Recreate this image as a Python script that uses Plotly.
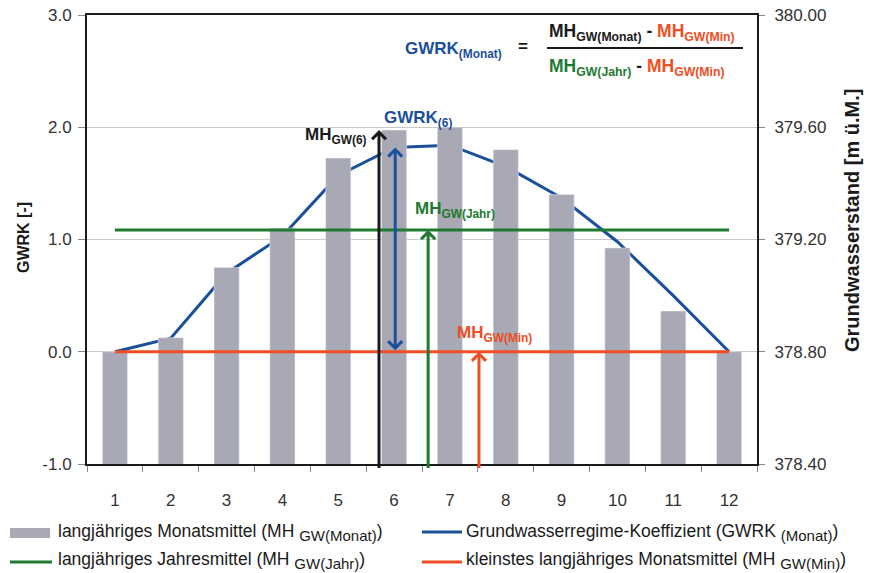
import plotly.graph_objects as go

# ---------------- data ----------------
months = ["1", "2", "3", "4", "5", "6", "7", "8", "9", "10", "11", "12"]
mh_monat = [378.80, 378.85, 379.10, 379.24, 379.49, 379.59, 379.60, 379.52, 379.36, 379.17, 378.945, 378.80]
gwrk = [0.00, 0.12, 0.70, 1.03, 1.57, 1.82, 1.84, 1.65, 1.37, 0.98, 0.50, 0.00]
mh_jahr = [379.234] * 12
mh_min = [378.80] * 12
left_ticks = [-1.0, 0.0, 1.0, 2.0, 3.0]
left_labels = ["-1.0", "0.0", "1.0", "2.0", "3.0"]
right_ticks = [378.40, 378.80, 379.20, 379.60, 380.00]
right_labels = ["378.40", "378.80", "379.20", "379.60", "380.00"]

# ---------------- styles ----------------
C_BAR = "#a9a9b5"
C_BLUE = "#1b4f9c"
C_GREEN = "#1d7a30"
C_RED = "#f04d24"
C_BLACK = "#1a1a1a"
C_TXT = "#333333"
FONT = "Arial, Liberation Sans, sans-serif"

W, H = 874, 573
L, R, T, B = 87, 117, 15, 109
PW, PH = W - L - R, H - T - B


def px(x):
    return (x - L) / PW


def py(y):
    return (H - B - y) / PH


fig = go.Figure()
fig.add_trace(go.Bar(x=months, y=mh_monat, yaxis="y2", marker_color=C_BAR,
                     width=0.45, showlegend=False))
fig.add_trace(go.Scatter(x=months, y=mh_jahr, yaxis="y2", mode="lines",
                         line=dict(color=C_GREEN, width=3), showlegend=False))
fig.add_trace(go.Scatter(x=months, y=mh_min, yaxis="y2", mode="lines",
                         line=dict(color=C_RED, width=3), showlegend=False))
fig.add_trace(go.Scatter(x=months, y=gwrk, yaxis="y", mode="lines",
                         line=dict(color=C_BLUE, width=3), showlegend=False))

ann = []


def arrow(x, y_tip, y_tail, yref, color, both=False):
    d = dict(x=x, y=y_tip, ax=x, ay=y_tail, xref="x", yref=yref, axref="x", ayref=yref,
             text="", showarrow=True, arrowhead=4, arrowsize=0.9, arrowwidth=3,
             arrowcolor=color, standoff=0, startstandoff=0)
    if both:
        d.update(arrowside="end+start", startarrowhead=4, startarrowsize=0.9)
    ann.append(d)


# arrows (tips taken from the data)
arrow(4.73, mh_monat[5], 378.38, "y2", C_BLACK)
arrow(5.02, gwrk[5], gwrk[0], "y", C_BLUE, both=True)
arrow(5.61, mh_jahr[0], 378.38, "y2", C_GREEN)
arrow(6.52, mh_min[0], 378.38, "y2", C_RED)


def label(x, y, text, color, size=17, xanchor="left", angle=0, bold=True):
    ann.append(dict(x=x, y=y, xref="paper", yref="paper", text=(f"<b>{text}</b>" if bold else text),
                    showarrow=False, xanchor=xanchor, yanchor="middle", textangle=angle,
                    font=dict(family=FONT, size=size, color=color)))


label(px(368), py(136), "MH<sub>GW(6)</sub>", C_BLACK, xanchor="right")
label(px(382), py(119), "GWRK<sub>(6)</sub>", C_BLUE)
label(px(413), py(210), "MH<sub>GW(Jahr)</sub>", C_GREEN)
label(px(455), py(334), "MH<sub>GW(Min)</sub>", C_RED)

# formula
label(px(403), py(50), "GWRK<sub>(Monat)</sub>", C_BLUE)
label(px(523), py(47), "=", C_BLACK, xanchor="center")
label(px(547), py(33),
      f"MH<sub>GW(Monat)</sub> - <span style='color:{C_RED}'>MH<sub>GW(Min)</sub></span>", C_BLACK, size=17.5)
label(px(547), py(67),
      f"<span style='color:{C_GREEN}'>MH<sub>GW(Jahr)</sub></span> - <span style='color:{C_RED}'>MH<sub>GW(Min)</sub></span>",
      C_BLACK, size=17.5)

# axis titles
label(px(24), py(238), "GWRK [-]", C_BLACK, size=16, xanchor="center", angle=-90)
label(px(852), py(221), "Grundwasserstand [m ü.M.]", C_BLACK, size=20, xanchor="center", angle=-90)

# legend texts
def sub(t):
    return f"<sub><span style='font-size:15px'>{t}</span></sub>"


LEG = 17.5
label(px(56), py(532), f"langjähriges Monatsmittel (MH {sub('GW(Monat)')})", C_BLACK, size=LEG, bold=False)
label(px(464), py(532), f"Grundwasserregime-Koeffizient (GWRK {sub('(Monat)')})", C_BLACK, size=LEG, bold=False)
label(px(56), py(560), f"langjähriges Jahresmittel (MH {sub('GW(Jahr)')})", C_BLACK, size=LEG, bold=False)
label(px(464), py(560), f"kleinstes langjähriges Monatsmittel (MH {sub('GW(Min)')})", C_BLACK, size=LEG, bold=False)

shapes = [
    dict(type="line", xref="paper", yref="paper", x0=px(547), x1=px(743), y0=py(48), y1=py(48),
         line=dict(color=C_BLACK, width=2)),
    dict(type="rect", xref="paper", yref="paper", x0=px(10), x1=px(50), y0=py(538), y1=py(528),
         fillcolor=C_BAR, line=dict(width=0)),
    dict(type="line", xref="paper", yref="paper", x0=px(422), x1=px(462), y0=py(532), y1=py(532),
         line=dict(color=C_BLUE, width=3)),
    dict(type="line", xref="paper", yref="paper", x0=px(10), x1=px(52), y0=py(562), y1=py(562),
         line=dict(color=C_GREEN, width=3)),
    dict(type="line", xref="paper", yref="paper", x0=px(422), x1=px(462), y0=py(562), y1=py(562),
         line=dict(color=C_RED, width=3)),
]

tickfont = dict(family=FONT, size=17, color=C_TXT)
fig.update_layout(
    width=W, height=H, margin=dict(l=L, r=R, t=T, b=B, autoexpand=False),
    paper_bgcolor="white", plot_bgcolor="white",
    font=dict(family=FONT, color=C_TXT),
    bargap=0.55,
    xaxis=dict(type="category", tickson="boundaries", ticks="outside", ticklen=6,
               tickcolor="#888888", showline=True, linecolor=C_BLACK, linewidth=2, mirror=True,
               showgrid=False, tickfont=tickfont, ticklabelstandoff=20, range=[-0.5, 11.5],
               automargin=False),
    yaxis=dict(range=[-1, 3], tickvals=left_ticks, ticktext=left_labels, ticks="outside", ticklen=7,
               tickcolor="#888888", showline=True, linecolor=C_BLACK, linewidth=2, mirror=True,
               showgrid=True, gridcolor="#c8c8c8", gridwidth=1, zeroline=False,
               tickfont=tickfont, ticklabelstandoff=3, automargin=False),
    yaxis2=dict(range=[378.40, 380.00], tickvals=right_ticks, ticktext=right_labels, overlaying="y",
                side="right", ticks="outside", ticklen=6, tickcolor="#888888", showline=True,
                linecolor=C_BLACK, linewidth=2, showgrid=False, zeroline=False,
                tickfont=tickfont, ticklabelstandoff=6, automargin=False),
    annotations=ann, shapes=shapes, showlegend=False,
)

fig.write_html("out.html", config={"displayModeBar": False},
               post_script="document.body.style.margin='0';document.body.style.overflow='hidden';")
